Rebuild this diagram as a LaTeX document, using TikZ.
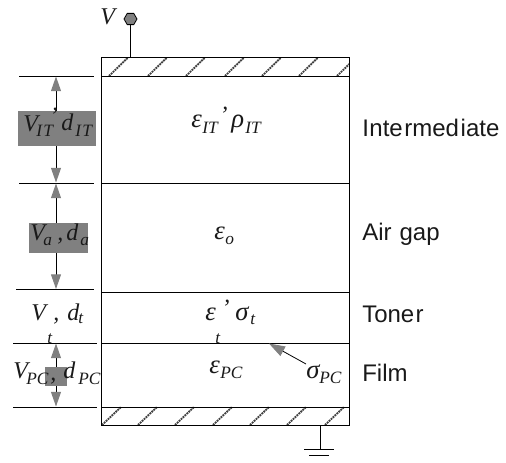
\documentclass[tikz,border=0pt]{standalone}
\usepackage{fontspec}
\setmainfont{Liberation Serif}
\setsansfont{Liberation Sans}
\usetikzlibrary{arrows.meta,shapes.geometric}
\definecolor{gfill}{HTML}{808080}
\tikzset{
  px/.style={x=0.75pt,y=-0.75pt},
  ln/.style={draw=black,line width=0.75pt},
  hatchline/.style={draw=black!75,line width=1.4pt,dash pattern=on 1.4pt off 0.6pt},
  dim/.style={ln,{Triangle[length=11pt,width=7.5pt,fill=gfill,color=gfill]}-{Triangle[length=11pt,width=7.5pt,fill=gfill,color=gfill]}},
  graybox/.style={fill=gfill,draw=none,inner sep=0pt},
  mtxt/.style={inner sep=0pt,anchor=base west,font=\fontsize{18}{18}\selectfont\itshape,text=black!90},
  gtxt/.style={mtxt,font=\fontsize{20}{20}\selectfont\itshape},
  subt/.style={inner sep=0pt,anchor=base west,font=\fontsize{13}{13}\selectfont\itshape,text=black!90},
  lab/.style={inner sep=0pt,anchor=base west,font=\fontsize{18}{18}\selectfont\sffamily,text=black!90},
}
\begin{document}
\begin{tikzpicture}[px]
\useasboundingbox (0,0) rectangle (506,462);
% main box
\coordinate (tl) at (101,57.5);
\coordinate (br) at (349.5,425);
% hatches
\begin{scope}
\clip (tl) rectangle (br);
\foreach \x in {109,148,186,225,262,299,337}{\draw[hatchline] (\x,76) -- (\x+19,57.5);}
\foreach \x in {102,138,175,213,250,287,325}{\draw[hatchline] (\x,425) -- (\x+19,407);}
\end{scope}
\draw[ln] (tl) rectangle (br);
\foreach \y in {76,183,292.5,343,407}{\draw[ln] (101,\y) -- (349.5,\y);}
% outer dimension lines
\draw[ln] (19,76) -- (94,76);
\draw[ln] (19,183) -- (94,183);
\draw[ln] (16,289.5) -- (94,289.5);
\draw[ln] (13,343) -- (97,343);
\draw[ln] (13,407) -- (97,407);
% arrows
\coordinate (a1) at (56,76.5); \coordinate (a2) at (56,182.5);
\coordinate (b1) at (56,183.5); \coordinate (b2) at (56,289);
\coordinate (c1) at (56,343.5); \coordinate (c2) at (56,406.5);
\draw[dim] (a1) -- (a2);
\draw[dim] (b1) -- (b2);
\draw[dim] (c1) -- (c2);
% grey boxes
\node[graybox,minimum width=58.5pt,minimum height=26.25pt] (g1) at (57,128.5) {};
\node[graybox,minimum width=44.25pt,minimum height=22.5pt] (g2) at (58.5,237.7) {};
\node[graybox,minimum width=16.5pt,minimum height=14.25pt] (g3) at (56,376.5) {};
% V terminal
\node[regular polygon,regular polygon sides=6,draw=black,fill=gfill,line width=0.6pt,inner sep=0pt,minimum size=9.75pt] (term) at (130.5,19) {};
\coordinate (termb) at (130.5,57.5);
\draw[ln] (term) -- (termb);
\node[mtxt] (v) at (100,24) {V};
% ground
\coordinate (g0) at (320,425);
\coordinate (g00) at (320,449);
\draw[ln] (g0) -- (g00);
\draw[ln] (304,449) -- (334,449);
\draw[ln] (309,455) -- (329,455);
% texts left
\node[mtxt] (t1) at (23,131) {V};
\node[subt] (t1s) at (36,136) {I\kern1pt T};
\node[mtxt] (t1c) at (52,110) {,};
\node[mtxt] (t1d) at (61,130) {d};
\node[subt] (t1ds) at (75,136) {I\kern1pt T};
\node[mtxt] (t2) at (30,240) {V};
\node[subt] (t2s) at (43,245) {a};
\node[mtxt] (t2c) at (57,240) {,};
\node[mtxt] (t2d) at (66,240) {d};
\node[subt] (t2ds) at (80,245) {a};
\node[mtxt] (t3) at (31,320) {V};
\node[mtxt] (t3c) at (53,320) {,};
\node[mtxt] (t3d) at (67,320) {d};
\node[subt] (t3ds) at (78,323) {t};
\node[subt] (t3s) at (47,343) {t};
\node[mtxt] (t4) at (13,378) {V};
\node[subt] (t4s) at (26,384) {PC};
\node[mtxt] (t4c) at (50,380) {,};
\node[mtxt] (t4d) at (63,378) {d};
\node[subt] (t4ds) at (78,384) {PC};
% layer symbols
\node[gtxt] (e1) at (191,127) {ε};
\node[subt] (e1s) at (202,133) {IT};
\node[mtxt] (e1c) at (222,109) {,};
\node[gtxt] (r1) at (231,127) {ρ};
\node[subt] (r1s) at (245,133) {IT};
\node[gtxt] (e2) at (214,239) {ε};
\node[subt] (e2s) at (225,244) {o};
\node[gtxt] (e3) at (205,320) {ε};
\node[mtxt] (e3c) at (224,302) {,};
\node[gtxt] (s3) at (235,320) {σ};
\node[subt] (s3s) at (250,324) {t};
\node[subt] (e3s) at (215,343) {t};
\node[gtxt] (e4) at (209,373) {ε};
\node[subt] (e4s) at (220,378) {PC};
\node[gtxt] (s4) at (306,378) {σ};
\node[subt] (s4s) at (319,383) {PC};
% sigma pointer
\coordinate (pt) at (269,343.5);
\draw[draw=black,line width=0.6pt,-{Triangle[length=12pt,width=8pt,fill=gfill,color=gfill]}] (s4.north west) -- (pt);
% right labels
\node[lab] (l1) at (362,136) {I\kern0.4pt nte\kern1.2pt rmed\kern1.2pt iate};
\node[lab] (l2) at (362,240) {Air\kern1pt{} gap};
\node[lab] (l3) at (362,322) {Tone\kern1pt r};
\node[lab] (l4) at (362,381) {Film};
\end{tikzpicture}
\end{document}
